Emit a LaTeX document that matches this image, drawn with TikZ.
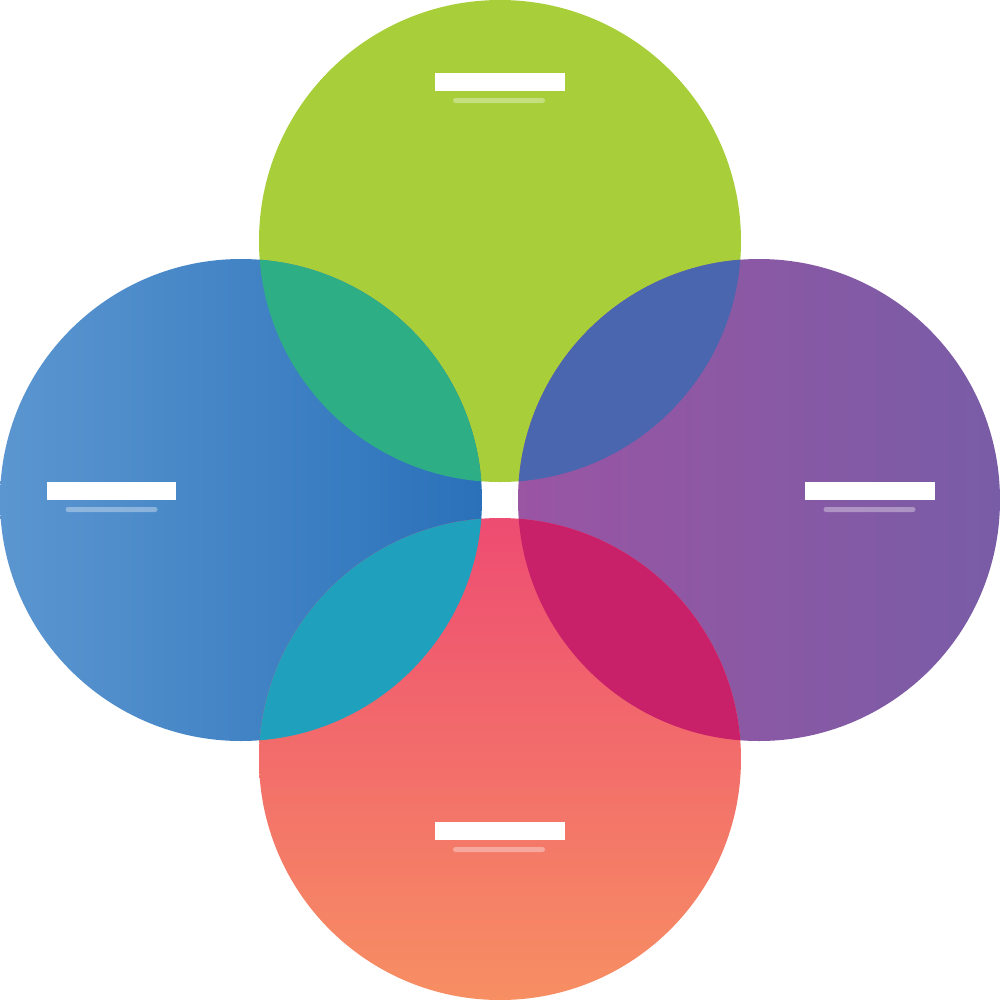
\documentclass[tikz,border=0pt]{standalone}
\definecolor{leafgreen}{HTML}{A8CE3A}
\definecolor{skyblue}{HTML}{5B96D0}
\definecolor{deepblue}{HTML}{2A71BA}
\definecolor{orchid}{HTML}{9A55A3}
\definecolor{grape}{HTML}{795CA6}
\definecolor{rosered}{HTML}{EE4C72}
\definecolor{peach}{HTML}{F78F63}
\definecolor{tealgreen}{HTML}{2DAE85}
\definecolor{slateblue}{HTML}{4A66AF}
\definecolor{cyanblue}{HTML}{1FA0BC}
\definecolor{berry}{HTML}{C8216A}
\begin{document}
\begin{tikzpicture}[
      x=0.1mm, y=-0.1mm,
      petal/.style={circle, inner sep=0pt, minimum size=48.2mm},
      bar/.style={fill=white, inner sep=0pt, minimum width=13mm, minimum height=1.8mm},
      subbar/.style={fill=white, fill opacity=0.35, inner sep=0pt, rounded corners=0.25mm,
        minimum width=9.2mm, minimum height=0.5mm},]
      \useasboundingbox (0,0) rectangle (1000,1000);
      % circles
      \node[petal, fill=leafgreen] (green) at (500,241) {};
      \node[petal, left color=skyblue, right color=deepblue] (blue) at (241,500) {};
      \node[petal, left color=orchid, right color=grape] (purple) at (759,500) {};
      \node[petal, top color=rosered, bottom color=peach] (red) at (500,759) {};
      % overlaps
      \begin{scope}
        \clip (green.center) circle (241);
        \fill[tealgreen] (blue.center) circle (241);
        \fill[slateblue] (purple.center) circle (241);
      \end{scope}
      \begin{scope}
        \clip (red.center) circle (241);
        \fill[cyanblue] (blue.center) circle (241);
        \fill[berry] (purple.center) circle (241);
      \end{scope}
      % bars
      \node[bar] (greenbar) at (499.5,82) {};
      \node[subbar] (greensub) at (499,100.5) {};
      \node[bar] (bluebar) at (111.5,490.5) {};
      \node[subbar] (bluesub) at (111.5,509.5) {};
      \node[bar] (purplebar) at (869.5,490.5) {};
      \node[subbar] (purplesub) at (869.5,509.5) {};
      \node[bar] (redbar) at (499.5,830.5) {};
      \node[subbar] (redsub) at (499,849.5) {};
    \end{tikzpicture}
\end{document}
